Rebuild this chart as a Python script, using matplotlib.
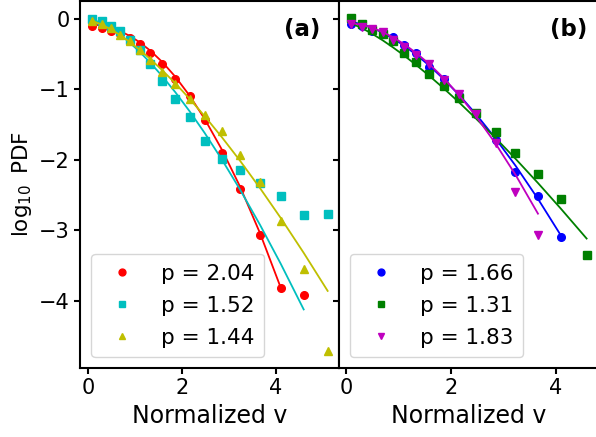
import matplotlib
matplotlib.use("Agg")
import matplotlib.pyplot as plt

# ---- data ----
x = [0.09, 0.29, 0.49, 0.69, 0.89, 1.10, 1.33, 1.58, 1.86, 2.16, 2.48,
     2.85, 3.23, 3.66, 4.10, 4.59, 5.10]

# panel (a)
red_y = [-0.11, -0.13, -0.17, -0.22, -0.27, -0.36, -0.48, -0.64, -0.85, -1.10,
         -1.44, -1.90, -2.42, -3.07, -3.82, -3.92]
cyan_y = [0.00, -0.04, -0.10, -0.18, -0.30, -0.45, -0.64, -0.88, -1.14, -1.40,
          -1.74, -1.99, -2.15, -2.33, -2.51, -2.79, -2.77]
yel_y = [-0.04, -0.08, -0.13, -0.23, -0.32, -0.45, -0.59, -0.75, -0.93, -1.14,
         -1.36, -1.60, -1.93, -2.32, -2.87, -3.55, -4.72]

red_fit = [-0.082, -0.097, -0.129, -0.178, -0.245, -0.335, -0.456, -0.614, -0.825,
           -1.090, -1.420, -1.859, -2.375, -3.043, -3.814]
cyan_fit = [-0.011, -0.062, -0.138, -0.232, -0.341, -0.470, -0.628, -0.816, -1.045,
            -1.312, -1.619, -2.000, -2.419, -2.925, -3.476, -4.126]
yel_fit = [-0.032, -0.082, -0.152, -0.236, -0.331, -0.442, -0.575, -0.731, -0.919,
           -1.135, -1.381, -1.683, -2.011, -2.404, -2.827, -3.323, -3.863]

# panel (b)
blue_y = [-0.07, -0.10, -0.18, -0.21, -0.26, -0.37, -0.49, -0.68, -0.86, -1.08,
          -1.35, -1.72, -2.18, -2.52, -3.10]
green_y = [0.01, -0.075, -0.16, -0.22, -0.32, -0.48, -0.61, -0.78, -0.95, -1.12,
           -1.34, -1.61, -1.91, -2.20, -2.56, -3.36]
mag_y = [-0.08, -0.12, -0.15, -0.19, -0.30, -0.40, -0.51, -0.64, -0.87, -1.07,
         -1.35, -1.76, -2.46, -3.07]

blue_fit = [-0.045, -0.077, -0.129, -0.198, -0.281, -0.382, -0.509, -0.664, -0.858,
            -1.089, -1.359, -1.701, -2.085, -2.557, -3.078]
green_fit = [-0.068, -0.132, -0.214, -0.306, -0.408, -0.522, -0.656, -0.809, -0.990,
             -1.193, -1.421, -1.694, -1.987, -2.332, -2.698, -3.120]
mag_fit = [-0.063, -0.086, -0.128, -0.188, -0.264, -0.360, -0.485, -0.642, -0.845,
           -1.091, -1.388, -1.773, -2.214, -2.767]

labels_a = ["p = 2.04", "p = 1.52", "p = 1.44"]
labels_b = ["p = 1.66", "p = 1.31", "p = 1.83"]
xticks = [0, 2, 4]
yticks = [0, -1, -2, -3, -4]

# ---- figure ----
fig, (ax1, ax2) = plt.subplots(1, 2, sharey=True, figsize=(5.96, 4.37), dpi=100)
fig.subplots_adjust(left=0.135, right=1.004, bottom=0.158, top=0.997, wspace=0)

ms = 5.5
lw = 1.3

def panel(ax, series, tag, tagx):
    for ys, fit, col, mk, lab in series:
        ax.plot(x[:len(ys)], ys, linestyle='none', marker=mk, color=col,
                markersize=ms, label=lab)
        ax.plot(x[:len(fit)], fit, '-', color=col, lw=lw)
    ax.set_xticks(xticks)
    ax.set_yticks(yticks)
    for s in ax.spines.values():
        s.set_linewidth(1.5)
    ax.tick_params(width=1.5, length=4, labelsize=15)
    ax.set_xlabel("Normalized v", fontsize=17)
    ax.legend(loc='lower left', fontsize=15.5, labelspacing=0.55,
              handletextpad=0.8, handlelength=2.0, borderpad=0.45,
              markerscale=0.9)
    ax.text(tagx, 0.955, tag, transform=ax.transAxes, ha='right', va='top',
            fontsize=16.5, fontweight='bold')

panel(ax1, [(red_y, red_fit, 'r', 'o', labels_a[0]),
            (cyan_y, cyan_fit, 'c', 's', labels_a[1]),
            (yel_y, yel_fit, 'y', '^', labels_a[2])], '(a)', 0.925)
panel(ax2, [(blue_y, blue_fit, 'b', 'o', labels_b[0]),
            (green_y, green_fit, 'g', 's', labels_b[1]),
            (mag_y, mag_fit, 'm', 'v', labels_b[2])], '(b)', 0.957)

ax1.set_ylabel(r"$\log_{10}$ PDF", fontsize=15.5)

fig.savefig("out.png", dpi=100)
